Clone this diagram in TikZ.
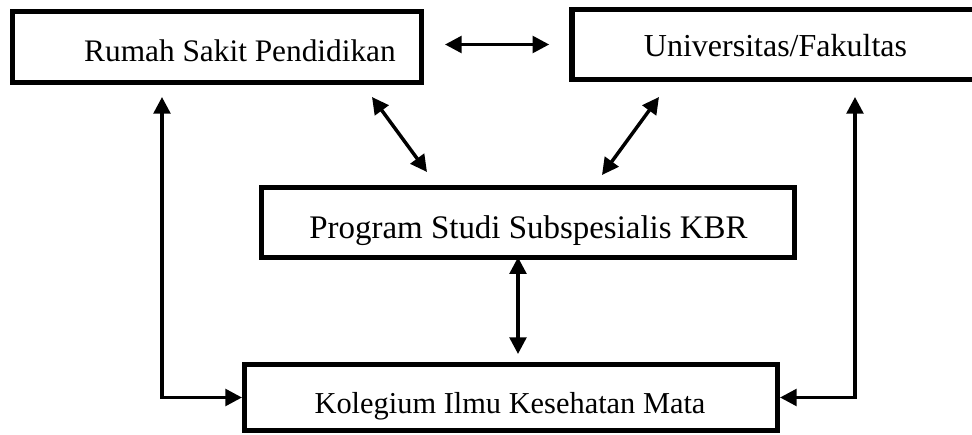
\documentclass[tikz,border=0pt]{standalone}
\usepackage{fontspec}
\setmainfont{Liberation Serif}
\usetikzlibrary{arrows.meta,calc}
\newcommand{\pxu}{0.75pt}
\newcommand{\fs}[1]{\fontsize{#1}{1.2\dimexpr#1\relax}\selectfont}
\begin{document}
\begin{tikzpicture}[x=0.75pt,y=-0.75pt,
  box/.style={draw, line width=4.1pt, rectangle, inner sep=0pt, outer sep=0pt, fill=white},
  lbl/.style={anchor=base, inner sep=0pt},
  conn/.style={line width=2.6pt, {Triangle[length=12.5pt,width=12.5pt]}-{Triangle[length=12.5pt,width=12.5pt]}}
]
\useasboundingbox (0,0) rectangle (972,435);
\clip (0,0) rectangle (972,435);
% boxes
\node[box, minimum width=408.5*\pxu, minimum height=70.5*\pxu] (rsp) at (217,47) {};
\node[box, minimum width=418*\pxu, minimum height=69.5*\pxu] (uf) at (781,44.5) {};
\node[box, minimum width=532.5*\pxu, minimum height=69.5*\pxu] (ps) at (528,222.5) {};
\node[box, minimum width=532.5*\pxu, minimum height=65.5*\pxu] (kikm) at (511,397.5) {};
% labels
\node[lbl, font=\fs{23.5pt}] (rspt) at (240,62) {Rumah Sakit Pendidikan};
\node[lbl, font=\fs{24pt}] (uft) at (775.5,57) {Universitas/Fakultas};
\node[lbl, font=\fs{24.7pt}] (pst) at (528.5,238) {Program Studi Subspesialis KBR};
\node[lbl, font=\fs{22.8pt}] (kikmt) at (510,413) {Kolegium Ilmu Kesehatan Mata};
% free ends
\coordinate (d1a) at (372,97);
\coordinate (d1b) at (427,172);
\coordinate (d2a) at (659,97);
\coordinate (d2b) at (602,175);
\coordinate (pv) at (518,300);
\coordinate (l1) at (162,97);
\coordinate (r1) at (855,97);
% connectors
\draw[conn, shorten <=23.75*\pxu, shorten >=22.75*\pxu] (rsp.east |- uf.west) -- (uf.west);
\draw[conn] (d1a) -- (d1b);
\draw[conn] (d2a) -- (d2b);
\draw[conn, shorten >=10.75*\pxu] (ps.south -| pv) -- (kikm.north -| pv);
\draw[conn, shorten >=2.75*\pxu] (l1) |- (kikm.west);
\draw[conn, shorten >=2.75*\pxu] (r1) |- (kikm.east);
\end{tikzpicture}
\end{document}
